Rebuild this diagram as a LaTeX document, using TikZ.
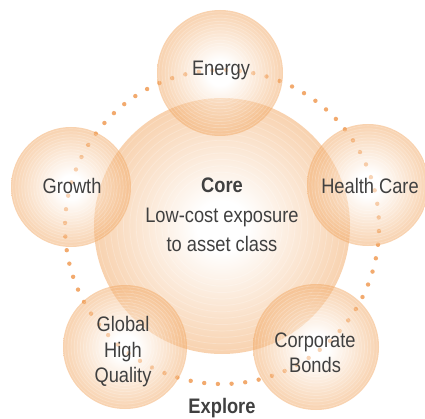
\documentclass[tikz,border=0pt]{standalone}
\usepackage{fontspec}
\setmainfont{Liberation Sans}[FakeStretch=0.87]
\usepackage{tikz}
\usetikzlibrary{calc}
\definecolor{peach}{HTML}{F1A55F}
\definecolor{dotc}{HTML}{F2AA6E}
\definecolor{ink}{HTML}{404040}
\pgfdeclareradialshading{glow}{\pgfpoint{0bp}{0bp}}{color(0bp)=(white); color(5bp)=(white); color(16bp)=(peach!55); color(25bp)=(peach); color(50bp)=(peach)}
\tikzset{
  ringline/.style={draw=white, line width=0.7pt, opacity=0.22},
  bubble/.style={circle, minimum size=#1, inner sep=0pt, shading=glow, fill opacity=0.5,
    path picture={
      \foreach \f in {0.42,0.47,...,0.98}
        \draw[ringline] let \p1=($(path picture bounding box.north)-(path picture bounding box.center)$)
          in (path picture bounding box.center) circle ({\f*\y1});
    }},
  dot/.style={fill=dotc},
  lbl/.style={text=ink, font=\fontsize{21}{25.5}\selectfont, align=center},
}

\begin{document}
\begin{tikzpicture}[x=1pt,y=1pt]
        \useasboundingbox (0,0) rectangle (425,418);

        % dotted ring
        \coordinate (ring) at (222,191);
        \foreach \a in {3.5,8.5,...,358.5}
          \fill[dot] (ring) ++(\a:157) circle (2.2);

        \path
        % middle
        (222,192) node[bubble=256pt](core) {}
        % around
        (220,345) node[bubble=126pt](energy) {}
        (71,231) node[bubble=120pt](growth) {}
        (368,233) node[bubble=122pt](health) {}
        (125,71) node[bubble=124pt](global) {}
        (316,71) node[bubble=126pt](corporate) {}
        ;

        \path
        (222,203) node[lbl, font=\fontsize{21}{29.5}\selectfont](coretxt) {\textbf{Core}\\Low-cost exposure\\to asset class}
        (221,342) node[lbl, anchor=base](energytxt) {Energy}
        (72,225) node[lbl, anchor=base](growthtxt) {Growth}
        (370,224) node[lbl, anchor=base](healthtxt) {Health Care}
        (123,66) node[lbl](globaltxt) {Global\\High\\Quality}
        (315,65) node[lbl](corporatetxt) {Corporate\\Bonds}
        (222,5) node[lbl, anchor=base](exploretxt) {\textbf{Explore}}
        ;
      \end{tikzpicture}
\end{document}
